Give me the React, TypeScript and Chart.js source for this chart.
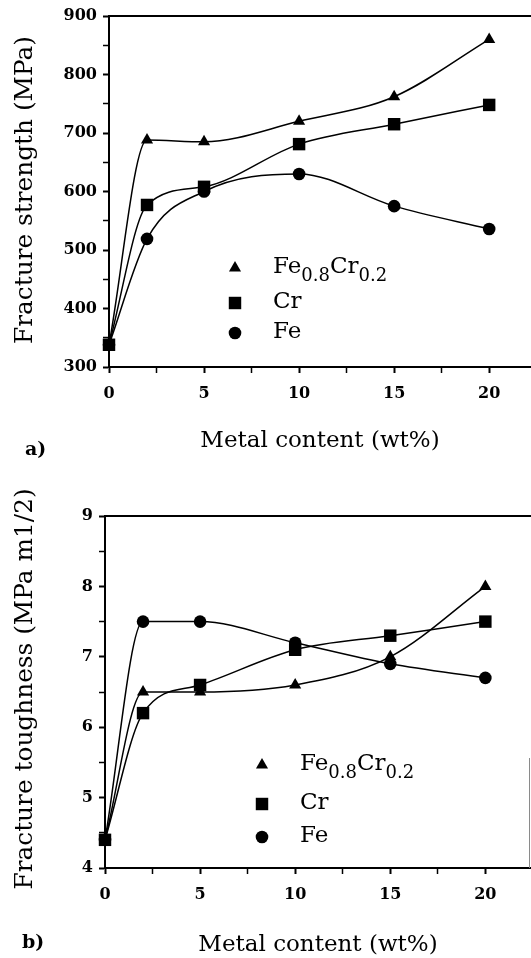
import { useEffect, useRef } from 'react';
import { Chart, registerables } from 'chart.js';

Chart.register(...registerables);

// Metal addition (wt%) at which each composite was measured
const metalContent = [0, 2, 5, 10, 15, 20];

// a) Fracture strength (MPa)
const strengthFeCr = [338, 688, 685, 720, 762, 860];
const strengthCr = [338, 577, 608, 681, 715, 748];
const strengthFe = [338, 519, 600, 630, 575, 536];

// b) Fracture toughness (MPa m1/2)
const toughnessFeCr = [4.4, 6.5, 6.5, 6.6, 7.0, 8.0];
const toughnessCr = [4.4, 6.2, 6.6, 7.1, 7.3, 7.5];
const toughnessFe = [4.4, 7.5, 7.5, 7.2, 6.9, 6.7];

// Tick positions (major ticks carry labels, the half steps are minor)
const xTicks = [0, 2.5, 5, 7.5, 10, 12.5, 15, 17.5, 20];
const xMajorTicks = [0, 5, 10, 15, 20];
const strengthTicks = [300, 350, 400, 450, 500, 550, 600, 650, 700, 750, 800, 850, 900];
const strengthMajorTicks = [300, 400, 500, 600, 700, 800, 900];
const toughnessTicks = [4, 4.5, 5, 5.5, 6, 6.5, 7, 7.5, 8, 8.5, 9];
const toughnessMajorTicks = [4, 5, 6, 7, 8, 9];

// Series names, split into normal and subscript runs
type Run = { text: string; sub?: boolean };
const seriesLabels = ['Fe0.8Cr0.2', 'Cr', 'Fe'];
const seriesNames: Run[][] = [
  [{ text: 'Fe' }, { text: '0.8', sub: true }, { text: 'Cr' }, { text: '0.2', sub: true }],
  [{ text: 'Cr' }],
  [{ text: 'Fe' }],
];
const seriesMarkers = ['triangle', 'rect', 'circle'];

const SERIF = '"DejaVu Serif", "Liberation Serif", serif';

type Panel = {
  height: number;
  padTop: number;
  axisWidth: number;
  axisHeight: number;
  xMax: number;
  yMin: number;
  yMax: number;
  yTicks: number[];
  yMajor: number[];
  series: number[][];
  yTitle: string;
  xTitle: string;
  label: string;
  yTitleX: number;
  yTitleY: number;
  yTitleSize: number;
  xTitleBaseline: number;
  labelX: number;
  labelBaseline: number;
  legendMarkerX: number;
  legendTextX: number;
  legendRows: number[];
  rightEdgeFrom?: number;
};

const panels: Panel[] = [
  {
    height: 470,
    padTop: 16,
    axisWidth: 109,
    axisHeight: 103,
    xMax: 22.2,
    yMin: 300,
    yMax: 900,
    yTicks: strengthTicks,
    yMajor: strengthMajorTicks,
    series: [strengthFeCr, strengthCr, strengthFe],
    yTitle: 'Fracture strength (MPa)',
    xTitle: 'Metal content (wt%)',
    label: 'a)',
    yTitleX: 26,
    yTitleY: 190,
    yTitleSize: 24.8,
    xTitleBaseline: 447,
    labelX: 25,
    labelBaseline: 455,
    legendMarkerX: 235,
    legendTextX: 273,
    legendRows: [268, 303, 333],
  },
  {
    height: 488,
    padTop: 46,
    axisWidth: 105,
    axisHeight: 90,
    xMax: 22.4,
    yMin: 4,
    yMax: 9,
    yTicks: toughnessTicks,
    yMajor: toughnessMajorTicks,
    series: [toughnessFeCr, toughnessCr, toughnessFe],
    yTitle: 'Fracture toughness (MPa m1/2)',
    xTitle: 'Metal content (wt%)',
    label: 'b)',
    yTitleX: 26,
    yTitleY: 219,
    yTitleSize: 24.8,
    xTitleBaseline: 481,
    labelX: 22,
    labelBaseline: 478,
    legendMarkerX: 262,
    legendTextX: 300,
    legendRows: [295, 334, 367],
    rightEdgeFrom: 288,
  },
];

const markerRadius: Record<string, number> = { triangle: 7, rect: 8.8, circle: 6.3 };

function drawMarker(ctx: CanvasRenderingContext2D, style: string, x: number, y: number) {
  const r = markerRadius[style];
  ctx.beginPath();
  if (style === 'triangle') {
    ctx.moveTo(x, y - r);
    ctx.lineTo(x + r * Math.sin((2 * Math.PI) / 3), y - r * Math.cos((2 * Math.PI) / 3));
    ctx.lineTo(x + r * Math.sin((4 * Math.PI) / 3), y - r * Math.cos((4 * Math.PI) / 3));
    ctx.closePath();
  } else if (style === 'rect') {
    const s = r * Math.SQRT1_2;
    ctx.rect(x - s, y - s, 2 * s, 2 * s);
  } else {
    ctx.arc(x, y, r, 0, Math.PI * 2);
  }
  ctx.fill();
}

function drawRuns(ctx: CanvasRenderingContext2D, runs: Run[], x: number, baseline: number) {
  let cx = x;
  for (const run of runs) {
    ctx.font = run.sub ? `18px ${SERIF}` : `23px ${SERIF}`;
    const y = run.sub ? baseline + 8 : baseline;
    ctx.fillText(run.text, cx, y);
    cx += ctx.measureText(run.text).width;
  }
}

function decorations(panel: Panel) {
  return {
    id: 'panelDecorations',
    afterDraw(chart: Chart) {
      const ctx = chart.ctx;
      const { left, top, bottom } = chart.chartArea;
      ctx.save();
      ctx.fillStyle = '#000';
      ctx.strokeStyle = '#000';

      // upper frame line
      ctx.lineWidth = 2;
      ctx.beginPath();
      ctx.moveTo(left - 1, top);
      ctx.lineTo(chart.width, top);
      ctx.stroke();

      // remnant of the right frame line
      if (panel.rightEdgeFrom !== undefined) {
        ctx.save();
        ctx.strokeStyle = '#8a8a8a';
        ctx.lineWidth = 1;
        ctx.beginPath();
        ctx.moveTo(chart.width - 1.5, panel.rightEdgeFrom);
        ctx.lineTo(chart.width - 1.5, bottom);
        ctx.stroke();
        ctx.restore();
      }

      // axis titles
      ctx.textAlign = 'center';
      ctx.textBaseline = 'alphabetic';
      ctx.font = `23px ${SERIF}`;
      ctx.fillText(panel.xTitle, (left + chart.width) / 2, panel.xTitleBaseline);

      ctx.save();
      ctx.translate(panel.yTitleX, panel.yTitleY);
      ctx.rotate(-Math.PI / 2);
      ctx.textBaseline = 'middle';
      ctx.font = `${panel.yTitleSize}px ${SERIF}`;
      ctx.fillText(panel.yTitle, 0, 0);
      ctx.restore();

      // panel letter
      ctx.textAlign = 'left';
      ctx.font = `bold 19px ${SERIF}`;
      ctx.fillText(panel.label, panel.labelX, panel.labelBaseline);

      // legend
      seriesNames.forEach((runs, i) => {
        const y = panel.legendRows[i];
        drawMarker(ctx, seriesMarkers[i], panel.legendMarkerX, y);
        ctx.textAlign = 'left';
        ctx.textBaseline = 'alphabetic';
        drawRuns(ctx, runs, panel.legendTextX, y + 5);
      });
      ctx.restore();
    },
  };
}

function PanelChart({ panel }: { panel: Panel }) {
  const ref = useRef<HTMLCanvasElement | null>(null);

  useEffect(() => {
    if (!ref.current) return;
    const tickFont = { family: SERIF, size: 16, weight: 'bold' as const };
    const chart = new Chart(ref.current, {
      type: 'line',
      data: {
        labels: metalContent,
        datasets: panel.series.map((values, i) => ({
          label: seriesLabels[i],
          data: metalContent.map((x, j) => ({ x, y: values[j] })),
          borderColor: '#000',
          borderWidth: 1.5,
          backgroundColor: '#000',
          pointStyle: seriesMarkers[i] as any,
          pointRadius: markerRadius[seriesMarkers[i]],
          pointBackgroundColor: '#000',
          pointBorderColor: '#000',
          pointBorderWidth: 0,
          cubicInterpolationMode: 'monotone' as const,
          fill: false,
          clip: false as any,
        })),
      },
      options: {
        responsive: false,
        animation: false,
        events: [],
        layout: { autoPadding: false, padding: { top: panel.padTop, left: 0, right: 0, bottom: 0 } },
        plugins: { legend: { display: false }, tooltip: { enabled: false } },
        scales: {
          x: {
            type: 'linear',
            min: 0,
            max: panel.xMax,
            afterBuildTicks: (s: any) => {
              s.ticks = xTicks.map((value) => ({ value }));
            },
            afterFit: (s: any) => {
              s.height = panel.axisHeight;
            },
            grid: {
              drawOnChartArea: false,
              drawTicks: true,
              tickLength: 6,
              tickColor: '#000',
              tickWidth: (c: any) => (xMajorTicks.includes(c.tick?.value) ? 2 : 1.5),
            },
            border: { display: true, color: '#000', width: 2 },
            ticks: {
              color: '#000',
              font: tickFont,
              padding: 11,
              autoSkip: false,
              maxRotation: 0,
              callback: (v: any) => (xMajorTicks.includes(Number(v)) ? String(v) : ''),
            },
          },
          y: {
            type: 'linear',
            min: panel.yMin,
            max: panel.yMax,
            afterBuildTicks: (s: any) => {
              s.ticks = panel.yTicks.map((value) => ({ value }));
            },
            afterFit: (s: any) => {
              s.width = panel.axisWidth;
            },
            grid: {
              drawOnChartArea: false,
              drawTicks: true,
              tickLength: 6,
              tickColor: '#000',
              tickWidth: (c: any) => (panel.yMajor.includes(c.tick?.value) ? 2 : 1.5),
            },
            border: { display: true, color: '#000', width: 2 },
            ticks: {
              color: '#000',
              font: tickFont,
              padding: 6,
              autoSkip: false,
              callback: (v: any) => (panel.yMajor.includes(Number(v)) ? String(v) : ''),
            },
          },
        },
      },
      plugins: [decorations(panel)],
    });
    return () => chart.destroy();
  }, [panel]);

  return (
    <canvas
      ref={ref}
      width={531}
      height={panel.height}
      style={{ display: 'block', width: 531, height: panel.height }}
    />
  );
}

export default function App() {
  useEffect(() => {
    document.body.style.margin = '0';
  }, []);
  return (
    <div style={{ width: 531, height: 958, background: '#fff', overflow: 'hidden' }}>
      {panels.map((p) => (
        <PanelChart key={p.label} panel={p} />
      ))}
    </div>
  );
}
